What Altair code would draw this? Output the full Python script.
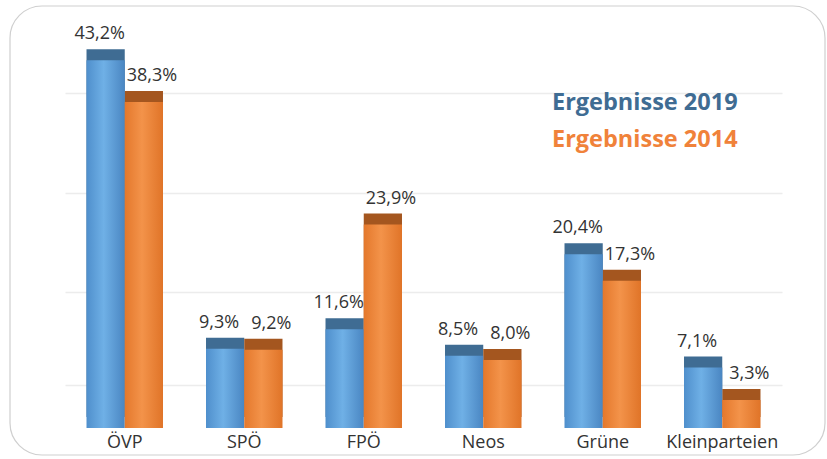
import altair as alt
import pandas as pd

parties = ["ÖVP", "SPÖ", "FPÖ", "Neos", "Grüne", "Kleinparteien"]
v2019 = [43.2, 9.3, 11.6, 8.5, 20.4, 7.1]
v2014 = [38.3, 9.2, 23.9, 8.0, 17.3, 3.3]
years = ["2019", "2014"]
legend_labels = ["Ergebnisse 2019", "Ergebnisse 2014"]
grid_values = [5, 16, 27.6, 39.4]

rows = []
for p, a, b in zip(parties, v2019, v2014):
    rows.append({"party": p, "year": "2019", "value": a})
    rows.append({"party": p, "year": "2014", "value": b})
df = pd.DataFrame(rows)
df["label"] = df["value"].map(lambda v: f"{v:.1f}".replace(".", ",") + "%")

W, H = 717, 383
FONT = "Open Sans"

x = alt.X("party:N", sort=parties, title=None,
          scale=alt.Scale(paddingInner=0.36, paddingOuter=0.18),
          axis=alt.Axis(labelFontSize=18, labelColor="#333", labelFont=FONT,
                        labelPadding=5, ticks=False, domain=False, labelAngle=0,
                        grid=False))
xo = alt.XOffset("year:N", scale=alt.Scale(domain=years, paddingInner=0.0))
y = alt.Y("value:Q", title=None,
          scale=alt.Scale(domain=[0, 45], nice=False, zero=True),
          axis=alt.Axis(values=grid_values, labels=False, ticks=False, domain=False,
                        grid=True, gridColor="#ececec", gridWidth=1.5))

base = alt.Chart(df)

frame = alt.Chart(pd.DataFrame({"a": [0]})).mark_rect(
    fillOpacity=0, stroke="#cfcfcf", strokeWidth=1.2, cornerRadius=32
).encode(x=alt.value(-55), x2=alt.value(760), y=alt.value(-39), y2=alt.value(410))

def grad(c1, c2, c3):
    return alt.Gradient(gradient="linear",
                        stops=[alt.GradientStop(color=c1, offset=0),
                               alt.GradientStop(color=c2, offset=0.45),
                               alt.GradientStop(color=c3, offset=1)],
                        x1=0, x2=1, y1=0, y2=0)

f19 = "datum.year == '2019'"
f14 = "datum.year == '2014'"

back19 = base.transform_filter(f19).mark_bar(
    color="#3f6c93", xOffset=7, yOffset=-11).encode(x=x, xOffset=xo, y=y)
back14 = base.transform_filter(f14).mark_bar(
    color="#a4561f", xOffset=7, yOffset=-11).encode(x=x, xOffset=xo, y=y)
front19 = base.transform_filter(f19).mark_bar(
    color=grad("#4f8fcc", "#6fb0e6", "#4a86c2")).encode(x=x, xOffset=xo, y=y)
front14 = base.transform_filter(f14).mark_bar(
    color=grad("#e4782c", "#f3934a", "#e07428")).encode(x=x, xOffset=xo, y=y)

lab19 = base.transform_filter(f19).mark_text(
    baseline="bottom", dy=-17, dx=-6, fontSize=18, font=FONT, color="#333"
).encode(x=x, xOffset=xo, y=y, text="label:N")
lab14 = base.transform_filter(f14).mark_text(
    baseline="bottom", dy=-17, dx=8, fontSize=18, font=FONT, color="#333"
).encode(x=x, xOffset=xo, y=y, text="label:N")

leg = pd.DataFrame({"t": legend_labels, "year": years})
leg19 = alt.Chart(leg).transform_filter(f19).mark_text(
    align="left", baseline="middle", fontSize=23.5, fontWeight="bold", font=FONT,
    color="#3f6c93").encode(x=alt.value(487), y=alt.value(58), text="t:N")
leg14 = alt.Chart(leg).transform_filter(f14).mark_text(
    align="left", baseline="middle", fontSize=23.5, fontWeight="bold", font=FONT,
    color="#f0823a").encode(x=alt.value(487), y=alt.value(95), text="t:N")

chart = alt.layer(frame, back19, back14, front19, front14, lab19, lab14, leg19, leg14).properties(
    width=W, height=H,
    autosize=alt.AutoSizeParams(type="none"),
    padding={"left": 65, "top": 45, "right": 45, "bottom": 31},
    background="white",
).configure_view(stroke=None)

chart.save("out.html", embed_options={"renderer": "svg", "actions": False})
